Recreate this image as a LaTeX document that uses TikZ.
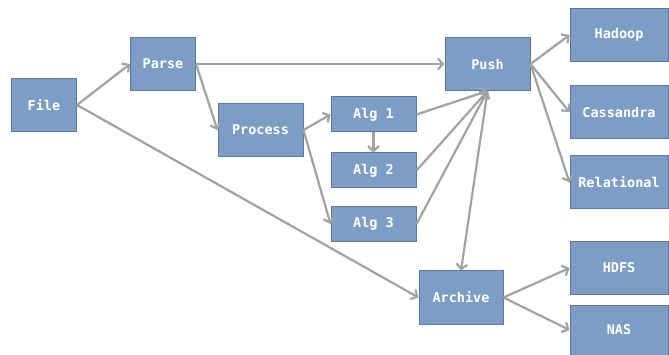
\documentclass[tikz,border=0pt]{standalone}
\usepackage{fontspec}
\setmonofont{DejaVu Sans Mono}
\usetikzlibrary{arrows.meta}

\definecolor{boxfill}{RGB}{124,157,196}
\definecolor{boxline}{RGB}{92,120,158}
\definecolor{flowgray}{RGB}{162,162,162}

\begin{document}
\begin{tikzpicture}[x=1pt, y=-1pt,
    box/.style={draw=boxline, line width=1pt, fill=boxfill, text=white,
                font=\ttfamily\bfseries\fontsize{13.5}{16}\selectfont,
                inner sep=0pt, minimum height=53pt},
    flow/.style={draw=flowgray, line width=2.2pt,
                 -{Straight Barb[length=5pt, width=11pt, line width=2.2pt]}}]
\useasboundingbox (0,0) rectangle (669,355);

% sources and steps
\node[box, minimum width=65pt] (file)    at ( 44.0, 105.0) {File};
\node[box, minimum width=65pt] (parse)   at (163.0,  64.0) {Parse};
\node[box, minimum width=85pt] (process) at (260.5, 130.0) {Process};
\node[box, minimum width=85pt, minimum height=35pt] (alg1) at (373.5, 114.5) {Alg 1};
\node[box, minimum width=85pt, minimum height=35pt] (alg2) at (373.5, 170.5) {Alg 2};
\node[box, minimum width=85pt, minimum height=35pt] (alg3) at (373.5, 224.0) {Alg 3};
\node[box, minimum width=85pt] (push)    at (487.5,  64.0) {Push};
\node[box, minimum width=84pt] (archive) at (461.0, 297.5) {Archive};

% targets
\node[box, minimum width=98pt] (hadoop)     at (619.0,  35.0) {Hadoop};
\node[box, minimum width=98pt] (cassandra)  at (619.0, 112.0) {Cassandra};
\node[box, minimum width=98pt] (relational) at (619.0, 182.5) {Relational};
\node[box, minimum width=98pt] (hdfs)       at (619.0, 268.0) {HDFS};
\node[box, minimum width=98pt, minimum height=50pt] (nas) at (619.0, 330.0) {NAS};

\draw[flow] (file.east)    -- (parse.west);
\draw[flow] (file.east)    -- (archive.west);
\draw[flow] (parse.east)   -- (push.west);
\draw[flow] (parse.east)   -- (process.west);
\draw[flow] (process.east) -- (alg1.west);
\draw[flow] (process.east) -- (alg3.west);
\draw[flow] (alg1.south)   -- (alg2.north);
\draw[flow] (alg1.east)    -- (push.south);
\draw[flow] (alg2.east)    -- (push.south);
\draw[flow] (alg3.east)    -- (push.south);
\draw[flow] (push.south)   -- (archive.north);
\draw[flow] (push.east)    -- (hadoop.west);
\draw[flow] (push.east)    -- (cassandra.west);
\draw[flow] (push.east)    -- (relational.west);
\draw[flow] (archive.east) -- (hdfs.west);
\draw[flow] (archive.east) -- (nas.west);
\end{tikzpicture}
\end{document}
